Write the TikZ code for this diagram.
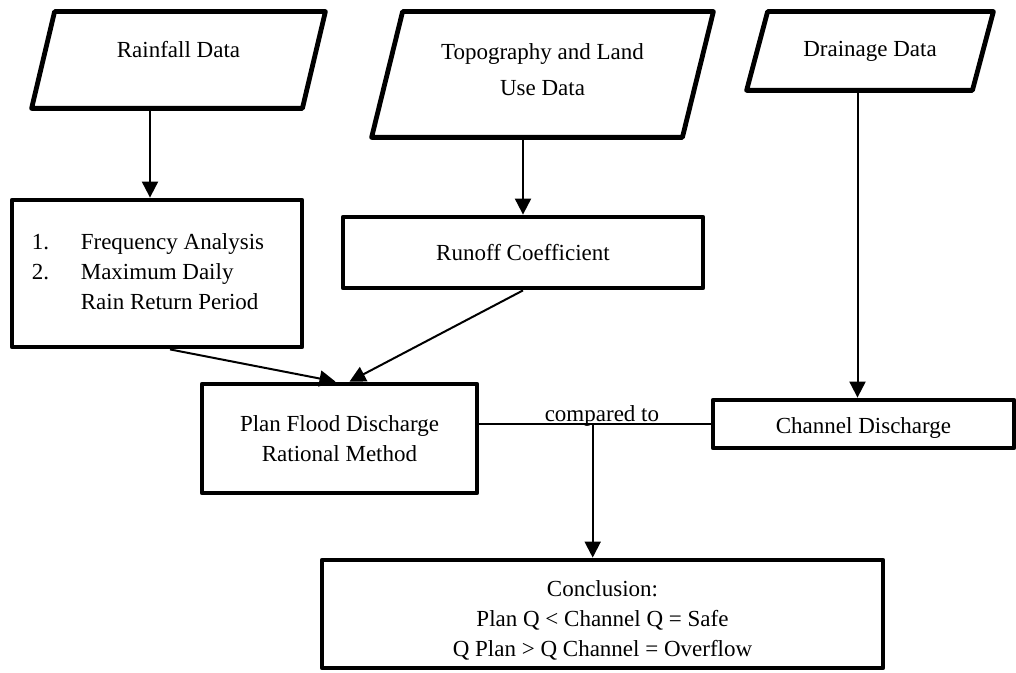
\documentclass[tikz,border=0pt]{standalone}
\usepackage{fontspec}
\setmainfont{Liberation Serif}
\usepackage{tikz}
\usetikzlibrary{arrows.meta}

\begin{document}
\begin{tikzpicture}[x=0.5pt, y=-0.5pt,
 font=\fontsize{11.5}{15}\selectfont,
 data/.style={rectangle, inner sep=0pt, align=center},
 para/.style={line width=2.4pt, line join=round},
 box/.style={draw, line width=2.4pt, rectangle, inner sep=0pt, align=center, line join=round},
 arr/.style={line width=1pt, -{Triangle[length=8pt, width=8pt]}}]
\useasboundingbox (0,0) rectangle (1016,673);

% input data
\node[data, minimum width=146.5pt, minimum height=48pt] (rain) at (178.5,60) {\raisebox{5pt}[\height][\depth]{Rainfall Data}};
\node[data, minimum width=170.5pt, minimum height=62.5pt, font=\fontsize{11.5}{18}\selectfont] (topo) at (542.5,74.5) {\raisebox{2pt}[\height][\depth]{\begin{tabular}{@{}c@{}}Topography and Land\\Use Data\end{tabular}}};
\node[data, minimum width=123pt, minimum height=39pt] (drain) at (870,51) {Drainage Data};

\draw[para] ([xshift=11.5pt]rain.north west) -- (rain.north east) -- ([xshift=-11.5pt]rain.south east) -- (rain.south west) -- cycle;
\draw[para] ([xshift=15.5pt]topo.north west) -- (topo.north east) -- ([xshift=-15.5pt]topo.south east) -- (topo.south west) -- cycle;
\draw[para] ([xshift=10.5pt]drain.north west) -- (drain.north east) -- ([xshift=-10.5pt]drain.south east) -- (drain.south west) -- cycle;

% processing
\node[box, minimum width=145pt, minimum height=73.5pt] (freq) at (157,273.5) {\begin{tabular}{@{}p{24.5pt}@{}l@{\hspace{9pt}}}1. & Frequency Analysis\\ 2. & Maximum Daily\\ & Rain Return Period\end{tabular}};
\node[box, minimum width=180pt, minimum height=35.5pt] (runoff) at (523,252.5) {Runoff Coefficient};
\node[box, minimum width=137.5pt, minimum height=54.5pt] (plan) at (339.5,438.5) {Plan Flood Discharge\\Rational Method};
\node[box, minimum width=150.5pt, minimum height=24pt] (chan) at (863.5,424) {\raisebox{-2pt}[\height][\depth]{Channel Discharge}};
\node[box, minimum width=280.5pt, minimum height=54pt] (concl) at (602.5,614) {\raisebox{-3pt}[\height][\depth]{\begin{tabular}{@{}c@{}}Conclusion:\\Plan Q < Channel Q = Safe\\Q Plan > Q Channel = Overflow\end{tabular}}};

\draw[arr] ([xshift=-3.5pt]freq.north |- rain.south) -- ([xshift=-3.5pt]freq.north);
\draw[arr] (runoff.north |- topo.south) -- (runoff.north);
\draw[arr] ([xshift=-3pt]chan.north |- drain.south) -- ([xshift=-3pt]chan.north);

\draw[arr] ([xshift=6.5pt]freq.south) -- ([xshift=-2pt]plan.north);
\draw[arr] (runoff.south) -- ([xshift=5pt]plan.north);

\draw[line width=1pt] (plan.east |- chan.west) -- (chan.west)
 node[pos=0.53, above, inner sep=0pt, yshift=-1.5pt] (cmptxt) {compared to}
 coordinate[pos=0.49] (cmp);
\draw[arr] (cmp) -- (cmp |- concl.north);

\end{tikzpicture}
\end{document}
